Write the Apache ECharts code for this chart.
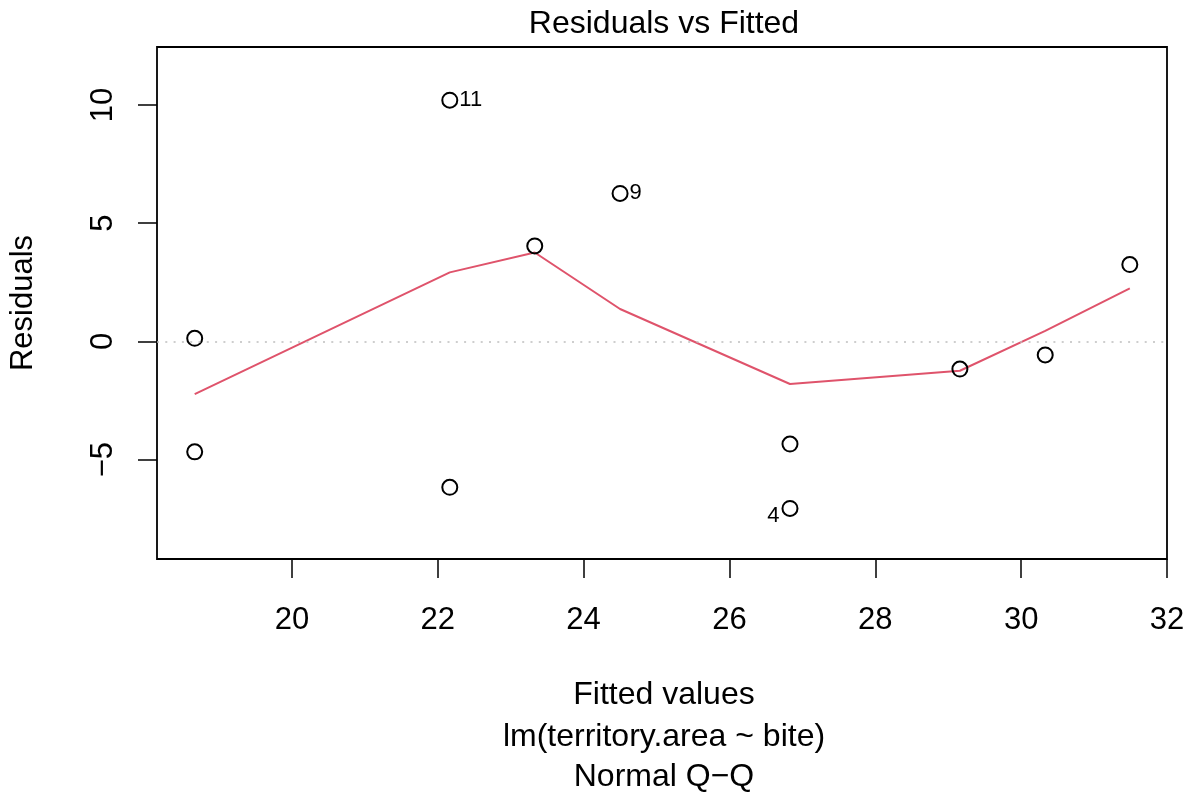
<!DOCTYPE html>
<html>
<head>
<meta charset="utf-8">
<script src="https://cdn.jsdelivr.net/npm/echarts@6/dist/echarts.min.js"></script>
<style>html,body{margin:0;padding:0;background:#fff;}#c{width:1191px;height:795px;}</style>
</head>
<body>
<div id="c"></div>
<script>
// Data
const fitted    = [18.667, 18.667, 22.165, 22.165, 23.33, 24.50, 26.83, 26.83, 29.16, 30.33, 31.49];
const residuals = [0.13, -4.67, 10.20, -6.17, 4.04, 6.26, -4.34, -7.06, -1.17, -0.57, 3.25];
const pointLabels = ['', '', '11', '', '', '9', '', '4', '', '', ''];
const smoothX = [18.667, 22.165, 23.33, 24.50, 26.83, 29.16, 30.33, 31.49];
const smoothY = [-2.23, 2.92, 3.76, 1.37, -1.80, -1.24, 0.45, 2.24];
const xTicks = [20, 22, 24, 26, 28, 30, 32];
const yTicks = [-5, 0, 5, 10];
const titleText = 'Residuals vs Fitted';
const xName = 'Fitted values';
const subLines = ['lm(territory.area ~ bite)', 'Normal Q\u2212Q'];
const yName = 'Residuals';

const FONT = 'Liberation Sans, Arial, sans-serif';
const FS = 31;
const TFS = 32;
const chart = echarts.init(document.getElementById('c'), null, {renderer: 'canvas'});

const scatterData = fitted.map((x, i) => {
  const d = {value: [x, residuals[i]]};
  if (pointLabels[i]) {
    const left = pointLabels[i] === '4';
    d.label = {
      show: true, formatter: pointLabels[i],
      position: left ? 'left' : 'right',
      distance: left ? 2 : 1,
      offset: left ? [0, 8] : [0, 0],
      color: '#000', fontSize: 22, fontFamily: FONT
    };
  }
  return d;
});

const ts = {fontSize: TFS, fontWeight: 'normal', color: '#000', fontFamily: FONT};

chart.setOption({
  backgroundColor: '#fff',
  animation: false,
  title: [
    {text: titleText, left: 659, top: 3, textAlign: 'center', textStyle: ts},
    {text: xName, left: 659, top: 674, textAlign: 'center', textStyle: ts},
    {text: subLines[0], left: 659, top: 716, textAlign: 'center', textStyle: ts},
    {text: subLines[1], left: 659, top: 756, textAlign: 'center', textStyle: ts}
  ],
  grid: {left: 157, right: 24, top: 47, bottom: 236, show: true,
         outerBoundsMode: 'none', containLabel: false,
         borderColor: '#000', borderWidth: 1.8, backgroundColor: 'transparent'},
  xAxis: {
    type: 'value', min: 18.15, max: 32.0,
    axisLine: {show: false, onZero: false},
    axisTick: {show: true, length: 19, customValues: xTicks, lineStyle: {color: '#000', width: 1.5}},
    axisLabel: {customValues: xTicks, margin: 46, color: '#000', fontSize: FS, fontFamily: FONT},
    splitLine: {show: false}
  },
  yAxis: {
    type: 'value', min: -9.2, max: 12.45,
    name: yName, nameLocation: 'middle', nameGap: 118, nameRotate: 90,
    nameTextStyle: {fontSize: FS, color: '#000', fontFamily: FONT},
    axisLine: {show: false, onZero: false},
    axisTick: {show: true, length: 19, customValues: yTicks, lineStyle: {color: '#000', width: 1.5}},
    axisLabel: {customValues: yTicks, rotate: 90, margin: 38, color: '#000', fontSize: FS, fontFamily: FONT,
      formatter: v => (v < 0 ? '\u2212' + Math.abs(v) : String(v))},
    splitLine: {show: false}
  },
  series: [
    {
      type: 'line', data: smoothX.map((x, i) => [x, smoothY[i]]),
      showSymbol: false, symbol: 'none',
      lineStyle: {color: '#DF536B', width: 2}, z: 2,
      markLine: {
        silent: true, symbol: 'none', label: {show: false},
        lineStyle: {color: '#bebebe', type: [2, 6.3], width: 1.5},
        data: [{yAxis: 0}]
      }
    },
    {
      type: 'scatter', data: scatterData,
      symbol: 'circle', symbolSize: 15,
      itemStyle: {color: 'rgba(0,0,0,0)', borderColor: '#000', borderWidth: 2, opacity: 1}, z: 3
    }
  ]
});
</script>
</body>
</html>
